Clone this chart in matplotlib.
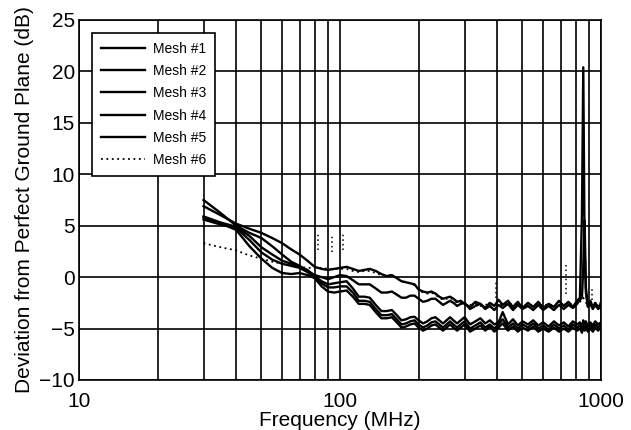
import matplotlib
matplotlib.use('Agg')
from matplotlib import pyplot as plt
from matplotlib.ticker import FixedLocator, FixedFormatter, NullFormatter

plt.rcParams['font.family'] = ['Liberation Sans', 'DejaVu Sans']

# frequency grid (MHz) shared by all meshes
freq = [30, 35, 40, 45, 50, 55, 60, 65, 70, 75, 80, 85, 90, 95, 100,
        106, 112, 118, 124, 130,
        137, 144, 151, 158, 165, 172, 179, 186, 193, 200,
        208, 216, 224, 232, 240, 248, 256, 264, 272,
        281, 290, 300,
        315, 330, 345, 360, 375, 390, 405, 420,
        440, 460, 480, 500,
        525, 550, 575, 600,
        630, 660, 690, 720, 750, 780, 810,
        830, 845, 855, 865, 875, 890,
        910, 930, 950, 975, 1000]

mesh1 = [6.9, 6.0, 5.2, 4.7, 4.3, 3.8, 3.3, 2.7, 2.2, 1.6, 1.0, 0.8, 0.7, 0.8, 0.9,
         1.0, 0.8, 0.6, 0.7, 0.8,
         0.6, 0.3, 0.1, 0.2, -0.1, -0.4, -0.5, -0.6, -0.7, -1.2,
         -1.4, -1.5, -1.4, -1.6, -1.9, -2.1, -2.0, -1.9, -2.1,
         -2.4, -2.3, -2.6,
         -2.9, -2.4, -2.6, -3.0, -2.5, -2.8, -2.2, -2.7,
         -2.3, -2.9, -2.4, -3.0,
         -2.5, -2.9, -2.4, -3.0,
         -2.6, -2.9, -2.3, -2.8, -2.4, -2.9, -2.3,
         -2.0, 6.0, 20.4, 3.0, -1.5, -2.8,
         -2.3, -2.9, -2.5, -2.9, -2.6]

mesh2 = [7.5, 6.2, 5.0, 4.3, 3.8, 3.0, 2.2, 1.5, 1.1, 0.6, 0.2, 0.0, -0.2, 0.0, 0.2,
         0.1, -0.3, -0.7, -0.7, -0.7,
         -1.1, -1.5, -1.5, -1.4, -1.7, -2.0, -2.0, -1.8, -1.8, -2.1,
         -2.4, -2.3, -2.1, -2.1, -2.4, -2.7, -2.5, -2.3, -2.5,
         -2.8, -2.6, -2.5,
         -3.1, -2.8, -2.6, -3.1, -2.8, -3.2, -2.7, -3.0,
         -2.6, -3.2, -2.7, -3.1,
         -2.8, -3.2, -2.7, -3.2,
         -2.8, -3.2, -2.7, -3.1, -2.7, -3.0, -2.6,
         -2.2, -2.0, 1.0, 5.5, -1.0, -2.9,
         -2.6, -3.1, -2.7, -3.1, -2.8]

mesh3 = [5.9, 5.3, 4.9, 4.0, 2.9, 2.2, 1.6, 1.3, 1.0, 0.7, 0.1, -0.4, -0.7, -0.6, -0.5,
         -0.4, -1.1, -1.9, -1.9, -2.0,
         -2.7, -3.3, -3.3, -3.2, -3.7, -4.2, -4.1, -3.9, -3.85, -4.2,
         -4.5, -4.3, -4.0, -3.9, -4.2, -4.5, -4.2, -3.9, -4.2,
         -4.5, -4.2, -3.9,
         -4.6, -4.3, -4.0, -4.5, -4.2, -4.6, -4.4, -3.4,
         -4.6, -4.1, -4.7, -4.3,
         -4.6, -4.2, -4.7, -4.4,
         -4.8, -4.3, -4.7, -4.4, -4.8, -4.3, -4.6,
         -4.4, -4.9, -4.2, -4.7, -4.3, -4.8,
         -4.4, -4.7, -4.3, -4.6, -4.4]

mesh4 = [5.6, 5.1, 4.8, 3.6, 2.4, 1.7, 1.3, 1.1, 0.9, 0.5, 0.0, -0.6, -1.0, -1.0, -0.9,
         -0.9, -1.5, -2.3, -2.3, -2.4,
         -3.1, -3.7, -3.7, -3.6, -4.1, -4.6, -4.5, -4.3, -4.2, -4.6,
         -4.9, -4.7, -4.4, -4.3, -4.6, -4.9, -4.6, -4.3, -4.6,
         -4.9, -4.6, -4.3,
         -5.0, -4.7, -4.4, -4.9, -4.6, -5.0, -4.6, -4.1,
         -4.9, -4.5, -5.0, -4.6,
         -4.9, -4.5, -5.0, -4.7,
         -5.1, -4.6, -5.0, -4.7, -5.1, -4.6, -4.9,
         -4.7, -5.2, -4.4, -5.0, -4.6, -5.1,
         -4.7, -5.0, -4.6, -4.9, -4.6]

mesh5 = [5.8, 5.2, 4.6, 3.0, 1.8, 0.9, 0.4, 0.3, 0.4, 0.2, -0.1, -0.9, -1.4, -1.5, -1.4,
         -1.3, -1.9, -2.6, -2.6, -2.7,
         -3.4, -4.0, -4.0, -3.9, -4.4, -4.9, -4.8, -4.6, -4.5, -4.9,
         -5.2, -5.0, -4.7, -4.6, -4.9, -5.2, -4.9, -4.6, -4.9,
         -5.2, -4.9, -4.6,
         -5.3, -5.0, -4.7, -5.2, -4.8, -5.3, -4.9, -4.5,
         -5.2, -4.8, -5.3, -4.9,
         -5.2, -4.8, -5.3, -5.0,
         -5.3, -4.9, -5.3, -5.0, -5.3, -4.9, -5.2,
         -5.0, -5.4, -4.7, -5.2, -4.9, -5.3,
         -5.0, -5.3, -4.9, -5.2, -4.9]

mesh6 = [3.3, 2.9, 2.6, 2.1, 1.8, 1.5, 1.3, 1.1, 1.0, 0.9, 0.9, 0.9, 0.8, 0.8, 0.8,
         0.8, 0.6, 0.5, 0.6, 0.6,
         0.4, 0.2, 0.1, 0.2, -0.1, -0.4, -0.5, -0.6, -0.8, -1.2,
         -1.5, -1.6, -1.5, -1.7, -2.0, -2.2, -2.1, -2.0, -2.2,
         -2.5, -2.4, -2.7,
         -2.7, -2.6, -2.8, -2.7, -2.6, -2.7, -2.5, -2.8,
         -2.5, -2.7, -2.6, -2.8,
         -2.6, -2.8, -2.6, -2.8,
         -2.6, -2.8, -2.5, -2.7, -2.5, -2.7, -2.5,
         -2.4, -2.2, -2.0, -2.3, -2.5, -2.6,
         -2.4, -2.6, -2.5, -2.6, -2.5]

# short dotted spikes of mesh #6
spike_f = [82, 93, 103, 396, 736, 925]
spike_lo = [2.6, 2.4, 2.6, -2.0, -1.6, -2.2]
spike_hi = [4.4, 4.2, 4.3, -0.3, 1.4, -1.2]

labels = ['Mesh #1', 'Mesh #2', 'Mesh #3', 'Mesh #4', 'Mesh #5', 'Mesh #6']
series = [mesh1, mesh2, mesh3, mesh4, mesh5, mesh6]

fig = plt.figure(figsize=(6.31, 4.30), dpi=100)
ax = fig.add_axes([0.1252, 0.1163, 0.8273, 0.8372])

for i, (vals, lab) in enumerate(zip(series, labels)):
    if i == 5:
        ax.plot(freq, vals, color='k', lw=1.3, ls=(0, (1, 2)), label=lab)
    else:
        ax.plot(freq, vals, color='k', lw=1.7, label=lab)
ax.vlines(spike_f, spike_lo, spike_hi, colors='k', lw=1.1, linestyles=(0, (1, 2)))

ax.set_xscale('log')
ax.set_xlim(10, 1000)
ax.set_ylim(-10, 25)
ax.xaxis.set_major_locator(FixedLocator([10, 100, 1000]))
ax.xaxis.set_major_formatter(FixedFormatter(['10', '100', '1000']))
ax.xaxis.set_minor_locator(FixedLocator([20, 30, 40, 50, 60, 70, 80, 90,
                                         200, 300, 400, 500, 600, 700, 800, 900]))
ax.xaxis.set_minor_formatter(NullFormatter())
ax.set_yticks([-10, -5, 0, 5, 10, 15, 20, 25])
ax.grid(True, which='both', axis='x', color='k', lw=1.2)
ax.grid(True, which='major', axis='y', color='k', lw=1.2)
ax.tick_params(which='both', direction='in', length=0, labelsize=15)
ax.tick_params(axis='y', pad=3)
ax.tick_params(axis='x', pad=9)
for sp in ax.spines.values():
    sp.set_linewidth(1.2)

ax.set_xlabel('Frequency (MHz)', fontsize=15, labelpad=0)
ax.set_ylabel('Deviation from Perfect Ground Plane (dB)', fontsize=15, labelpad=4)

leg = ax.legend(loc='upper left', fontsize=10, frameon=True, fancybox=False,
                edgecolor='k', framealpha=1, handlelength=3.2, handletextpad=0.6,
                labelspacing=0.6, borderaxespad=0.95, borderpad=0.6)
leg.get_frame().set_linewidth(1.2)

fig.savefig('out.png', dpi=100)
